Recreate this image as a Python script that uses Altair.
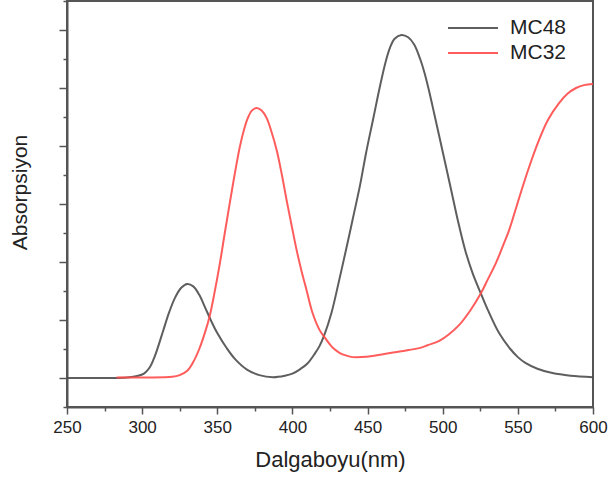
import altair as alt
import pandas as pd

# MC48 (gray)
mc48_nm = [250, 280, 290, 295, 300, 302.5, 305, 307.5, 310, 314, 318, 322, 326, 330, 334, 338,
           342, 346, 350, 356, 362, 370, 378, 387, 395, 400, 405, 410, 415, 418, 421, 426, 431,
           436, 440, 445, 449, 454, 458, 462, 465, 468, 472.5, 477, 481, 485, 488, 491, 494.5,
           498, 501.5, 505, 510, 515, 520, 525.5, 530, 537.5, 545, 550, 555, 563, 573, 585, 600]
mc48_abs = [0.0, 0.0, 0.002, 0.005, 0.012, 0.021, 0.036, 0.063, 0.098, 0.163, 0.227, 0.278,
            0.311, 0.324, 0.316, 0.287, 0.242, 0.196, 0.155, 0.105, 0.064, 0.028, 0.01, 0.003,
            0.008, 0.015, 0.03, 0.05, 0.085, 0.11, 0.145, 0.225, 0.335, 0.45, 0.545, 0.665,
            0.776, 0.9, 1.0, 1.09, 1.14, 1.17, 1.183, 1.175, 1.15, 1.1, 1.05, 0.988, 0.908,
            0.827, 0.745, 0.663, 0.545, 0.44, 0.36, 0.29, 0.235, 0.155, 0.1, 0.072, 0.052,
            0.032, 0.017, 0.008, 0.003]

# MC32 (red)
mc32_nm = [283, 300, 320, 325, 330, 334, 338, 342, 345, 348, 351.6, 355, 358.3, 361.5, 365,
           368, 370.2, 373, 376.2, 379.5, 382.8, 386, 389.5, 393, 396.1, 399.5, 402.8, 406,
           409.4, 413.4, 418, 421.3, 426.7, 431.3, 436, 440.1, 446, 453.4, 462, 471.2, 478,
           484.4, 490, 497.7, 504, 511, 518, 525.4, 530, 535.3, 540, 544.2, 550.8, 557, 564.1,
           570, 577.4, 583, 588.7, 594, 600]
mc32_abs = [0.002, 0.002, 0.004, 0.01, 0.025, 0.055, 0.1, 0.16, 0.215, 0.29, 0.392, 0.5,
            0.603, 0.7, 0.797, 0.86, 0.895, 0.922, 0.931, 0.922, 0.897, 0.85, 0.786, 0.7, 0.614,
            0.525, 0.441, 0.37, 0.303, 0.224, 0.166, 0.141, 0.105, 0.087, 0.077, 0.072, 0.072,
            0.076, 0.084, 0.091, 0.097, 0.103, 0.113, 0.128, 0.15, 0.183, 0.23, 0.292, 0.34,
            0.395, 0.455, 0.51, 0.62, 0.72, 0.821, 0.89, 0.948, 0.98, 1.0, 1.01, 1.014]

series = ["MC48", "MC32"]
colors = ["#4d4d4d", "#ff4a4a"]

x_ticks = [250, 275, 300, 325, 350, 375, 400, 425, 450, 475, 500, 525, 550, 575, 600]
y_ticks = [-0.1, 0.0, 0.1, 0.2, 0.3, 0.4, 0.5, 0.6, 0.7, 0.8, 0.9, 1.0, 1.1, 1.2, 1.3]

df = pd.concat([
    pd.DataFrame({"nm": mc48_nm, "abs": mc48_abs, "series": series[0]}),
    pd.DataFrame({"nm": mc32_nm, "abs": mc32_abs, "series": series[1]}),
])

FONT = "Liberation Sans"

chart = alt.Chart(df).mark_line(strokeWidth=2, interpolate="catmull-rom", opacity=0.9).encode(
    x=alt.X("nm:Q", scale=alt.Scale(domain=[250, 600], nice=False, zero=False),
            axis=alt.Axis(values=x_ticks, title="Dalgaboyu(nm)",
                          labelExpr="datum.value % 50 === 0 ? datum.label : ''",
                          tickSize={"condition": {"test": "datum.value % 50 === 0", "value": 7}, "value": 4},
                          labelFontSize=17, labelPadding=5, titleFontSize=22,
                          titlePadding=14, grid=False, labelFlush=False)),
    y=alt.Y("abs:Q", scale=alt.Scale(domain=[-0.1, 1.3], nice=False, zero=False),
            axis=alt.Axis(values=y_ticks, title="Absorpsiyon", labels=False,
                          tickSize={"condition": {"test": "round(datum.value * 10) % 2 === 0", "value": 8}, "value": 4},
                          titleFontSize=21, titlePadding=28, titleY=191, grid=False)),
    color=alt.Color("series:N", sort=series,
                    scale=alt.Scale(domain=series, range=colors),
                    legend=alt.Legend(title=None, orient="none", legendX=395, legendY=16,
                                      symbolType="M-2.5,0H2.5", symbolSize=400,
                                      symbolStrokeWidth=2, labelFontSize=21,
                                      labelOffset=26, rowPadding=4, padding=0,
                                      fillColor="white")),
).properties(
    width=526, height=406,
    autosize=alt.AutoSizeParams(type="none"),
    padding={"left": 67, "top": 1, "right": 15, "bottom": 72},
).configure_view(
    stroke="#555555", strokeWidth=2
).configure_axis(
    domainColor="#555555", domainWidth=2, tickColor="#555555", tickWidth=1.5,
    labelFont=FONT, titleFont=FONT, labelColor="#222222", titleColor="#222222",
    titleFontWeight="normal"
).configure_legend(
    labelFont=FONT, labelColor="#222222"
)

chart.save("out.html", embed_options={"renderer": "svg", "actions": False})
